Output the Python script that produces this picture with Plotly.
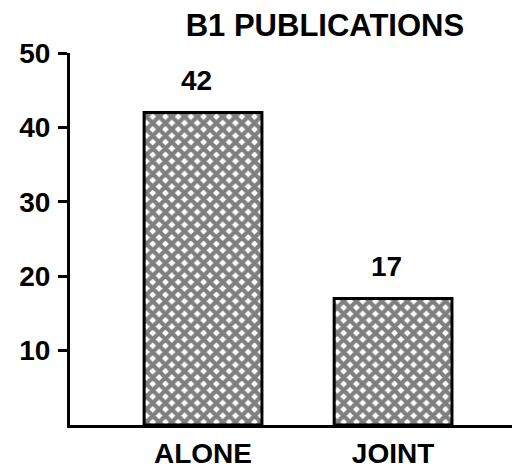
import plotly.graph_objects as go

categories = ["ALONE", "JOINT"]
values = [42, 17]
y_ticks = [10, 20, 30, 40, 50]
title_text = "B1 PUBLICATIONS"

font_family = "Liberation Sans, Arial, sans-serif"
# page body has an 8px default margin; the figure is sized to fill the rest
W, H = 512, 464

fig = go.Figure(
    go.Bar(
        x=categories,
        y=values,
        width=0.62,
        cliponaxis=False,
        marker=dict(
            color="white",
            line=dict(color="black", width=3),
            pattern=dict(shape="x", fgcolor="black", bgcolor="white", size=9, solidity=0.72),
        ),
    )
)

for c, v in zip(categories, values):
    fig.add_annotation(
        x=c, y=v, text=str(v), showarrow=False,
        yanchor="bottom", yshift=15, xshift=-7,
        font=dict(family=font_family, size=28, color="black", weight="bold"),
    )

fig.update_layout(
    width=W,
    height=H,
    margin=dict(l=62, r=0, t=45, b=47, autoexpand=False),
    paper_bgcolor="white",
    plot_bgcolor="white",
    showlegend=False,
    title=dict(
        text=title_text,
        x=0.619,
        xanchor="center",
        y=0.963,
        yanchor="middle",
        font=dict(family=font_family, size=31, color="black", weight="bold"),
    ),
    xaxis=dict(
        range=[-0.7, 1.668],
        automargin=False,
        showline=True,
        linecolor="black",
        linewidth=3,
        ticks="",
        showgrid=False,
        tickfont=dict(family=font_family, size=28, color="black", weight="bold"),
        ticklabelstandoff=1,
    ),
    yaxis=dict(
        range=[0, 50],
        automargin=False,
        showline=True,
        linecolor="black",
        linewidth=3,
        ticks="outside",
        ticklen=9,
        tickwidth=3,
        tickcolor="black",
        tickvals=y_ticks,
        showgrid=False,
        zeroline=False,
        tickfont=dict(family=font_family, size=28, color="black", weight="bold"),
        ticklabelstandoff=2,
    ),
)

fig.write_html("out.html")
